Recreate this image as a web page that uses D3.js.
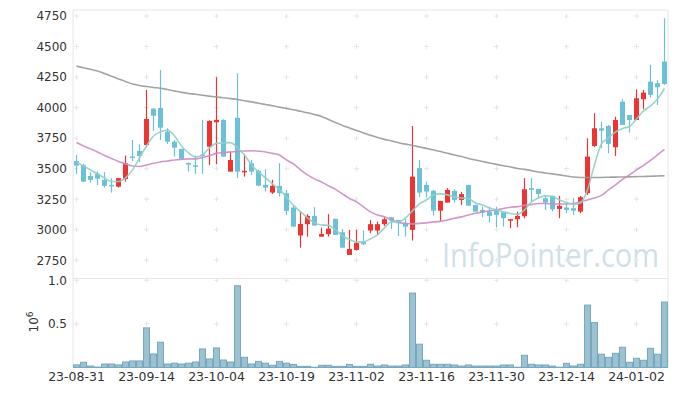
<!DOCTYPE html>
<html>
<head>
<meta charset="utf-8">
<script src="https://cdn.jsdelivr.net/npm/d3@7"></script>
<style>
  body { margin: 0; background: #fff; }
  svg { display: block; }
  .tick text { font-family: "DejaVu Sans", sans-serif; font-size: 12px; fill: #333; }
</style>
</head>
<body>
<div id="chart"></div>
<script>
// chart size
var svgWidth = 677;
var svgHeight = 396;

var left = 73, right = 668;
var priceTop = 10, priceBottom = 278.5, volBottom = 367.5;

// trading days
var dates = ["23-08-31","23-09-01","23-09-04","23-09-05","23-09-06","23-09-07","23-09-08","23-09-11","23-09-12","23-09-13",
  "23-09-14","23-09-15","23-09-18","23-09-19","23-09-20","23-09-21","23-09-22","23-09-25","23-09-26","23-09-27",
  "23-10-04","23-10-05","23-10-06","23-10-10","23-10-11","23-10-12","23-10-13","23-10-16","23-10-17","23-10-18",
  "23-10-19","23-10-20","23-10-23","23-10-24","23-10-25","23-10-26","23-10-27","23-10-30","23-10-31","23-11-01",
  "23-11-02","23-11-03","23-11-06","23-11-07","23-11-08","23-11-09","23-11-10","23-11-13","23-11-14","23-11-15",
  "23-11-16","23-11-17","23-11-20","23-11-21","23-11-22","23-11-23","23-11-24","23-11-27","23-11-28","23-11-29",
  "23-11-30","23-12-01","23-12-04","23-12-05","23-12-06","23-12-07","23-12-08","23-12-11","23-12-12","23-12-13",
  "23-12-14","23-12-15","23-12-18","23-12-19","23-12-20","23-12-21","23-12-22","23-12-26","23-12-27","23-12-28",
  "24-01-02","24-01-03","24-01-04","24-01-05","24-01-08"];

var tickLabels = ["23-08-31","23-09-14","23-10-04","23-10-19","23-11-02","23-11-16","23-11-30","23-12-14","24-01-02"];
var priceTicks = [2750, 3000, 3250, 3500, 3750, 4000, 4250, 4500, 4750];
var volTicks = [0.5, 1.0];

var open = [3563,3528,3440,3459,3408,3367,3353,3416,3600,3645,
  3694,3992,3997,3803,3721,3662,3547,3528,3615,3680,
  3880,3899,3476,3916,3473,3544,3482,3367,3304,3359,
  3299,3181,2952,3045,3113,2943,2963,3089,2979,2793,
  2834,2900,2993,2993,3045,3102,3080,3053,2998,3504,
  3367,3318,3156,3222,3318,3244,3367,3203,3162,3148,
  3156,3143,3078,3086,3110,3340,3334,3258,3277,3170,
  3181,3176,3148,3299,3686,3831,3850,3676,4049,3940,
  3899,4069,4213,4200,4377];
var high = [3612,3540,3471,3476,3471,3422,3425,3607,3735,3700,
  4145,3995,4309,3831,3735,3662,3550,3607,3899,3895,
  4249,3905,3640,4282,3612,3571,3490,3495,3408,3544,
  3326,3203,3148,3127,3184,3017,3127,3089,3006,2998,
  2998,2992,3080,3066,3102,3102,3080,3086,3850,3571,
  3395,3326,3236,3340,3331,3310,3367,3203,3189,3189,
  3189,3143,3086,3148,3422,3422,3334,3277,3277,3277,
  3222,3258,3277,3749,3954,3885,3858,3926,4069,3940,
  4150,4145,4350,4227,4732];
var low = [3457,3390,3386,3364,3345,3304,3345,3394,3563,3553,
  3675,3809,3735,3703,3599,3580,3476,3457,3457,3530,
  3536,3599,3476,3422,3435,3449,3356,3312,3293,3271,
  3121,3025,2853,2943,3034,2943,2943,2957,2848,2793,
  2829,2875,2971,2957,3031,3004,2949,2943,2911,3266,
  3266,3115,3072,3222,3222,3203,3197,3148,3102,3058,
  3020,3025,3012,3020,3094,3230,3260,3162,3150,3094,
  3135,3121,3135,3285,3676,3667,3626,3604,3858,3795,
  3899,3987,4085,4022,4186];
var close = [3525,3394,3408,3418,3359,3356,3422,3544,3595,3604,
  3907,3934,3836,3721,3672,3580,3533,3520,3605,3891,
  3900,3599,3571,3476,3482,3476,3361,3345,3359,3299,
  3154,3025,3047,3113,3034,2965,3009,2957,2853,2842,
  2892,2881,3045,3045,3086,3075,3053,3025,3435,3304,
  3312,3156,3236,3326,3244,3291,3197,3148,3140,3113,
  3121,3094,3086,3113,3331,3326,3293,3222,3167,3195,
  3162,3156,3266,3599,3831,3811,3703,3899,3858,3899,
  4077,4123,4104,4167,4194];

// volume in millions
var volume = [0.03,0.06,0.017,0.005,0.04,0.04,0.03,0.063,0.075,0.075,
  0.454,0.155,0.29,0.04,0.05,0.04,0.05,0.063,0.213,0.098,
  0.224,0.086,0.063,0.937,0.117,0.04,0.07,0.05,0.025,0.07,
  0.05,0.035,0.013,0.013,0.003,0.025,0.025,0.013,0.013,0.035,
  0.013,0.013,0.037,0.017,0.029,0.017,0.017,0.029,0.853,0.267,
  0.083,0.037,0.037,0.037,0.029,0.017,0.029,0.017,0.017,0.017,
  0.017,0.029,0.029,0.003,0.14,0.037,0.029,0.029,0.017,0.003,
  0.048,0.017,0.037,0.715,0.515,0.152,0.117,0.163,0.232,0.06,
  0.106,0.083,0.22,0.152,0.75];

// moving averages
var maShort = [3553,3522,3490,3457,3424,3395,3395,3424,3490,3588,
  3686,3768,3801,3817,3768,3686,3629,3596,3612,3670,
  3707,3711,3713,3670,3612,3530,3473,3424,3375,3330,
  3268,3199,3148,3096,3056,3039,3035,2998,2949,2920,
  2900,2900,2925,2957,3015,3064,3064,3096,3154,3211,
  3244,3285,3293,3285,3268,3260,3256,3219,3203,3178,
  3162,3146,3133,3125,3162,3228,3260,3277,3273,3244,
  3224,3207,3219,3326,3531,3703,3752,3801,3830,3846,
  3907,3973,4014,4071,4157];
var maMid = [3714,3686,3662,3637,3608,3584,3559,3539,3522,3518,
  3530,3544,3555,3563,3571,3576,3580,3580,3592,3608,
  3625,3633,3637,3641,3645,3647,3643,3637,3625,3612,
  3571,3539,3490,3449,3416,3391,3359,3330,3293,3256,
  3228,3187,3146,3121,3105,3080,3060,3052,3047,3052,
  3056,3064,3068,3080,3094,3105,3121,3135,3146,3154,
  3162,3174,3184,3189,3199,3207,3215,3215,3211,3211,
  3211,3215,3228,3244,3260,3281,3326,3367,3412,3449,
  3490,3527,3567,3612,3658];
var maLong = [4340,4327,4314,4300,4280,4257,4235,4215,4194,4182,
  4173,4165,4159,4148,4137,4125,4116,4110,4101,4094,
  4087,4081,4074,4067,4056,4047,4036,4026,4016,4004,
  3993,3983,3970,3958,3944,3928,3903,3879,3854,3834,
  3813,3793,3773,3756,3740,3727,3713,3701,3690,3678,
  3666,3653,3640,3626,3612,3599,3584,3571,3559,3547,
  3535,3524,3514,3502,3494,3484,3473,3465,3457,3449,
  3440,3432,3428,3427,3427,3428,3430,3431,3432,3433,
  3435,3436,3438,3440,3442];

var svg = d3.select("#chart")
  .append("svg")
  .attr("width", svgWidth)
  .attr("height", svgHeight);

var x = d3.scaleBand().domain(dates).range([left, right]).padding(0);
var cx = function (date) { return x(date) + x.bandwidth() / 2; };

var y = d3.scaleLinear().domain([2600, 4800]).range([priceBottom, priceTop]);
var yVol = d3.scaleLinear().domain([0, 1.02]).range([volBottom, priceBottom]);

var candles = dates.map(function (d, i) {
  return { date: d, o: open[i], h: high[i], l: low[i], c: close[i], v: volume[i] };
});

// watermark
svg.append("text")
  .attr("x", 442)
  .attr("y", 267)
  .attr("textLength", 217)
  .attr("lengthAdjust", "spacingAndGlyphs")
  .style("font-family", "'Open Sans', sans-serif")
  .style("font-size", "33px")
  .style("fill", "#cfe0e8")
  .text("InfoPointer.com");

// grid crosses at tick intersections
var crossColor = "#e6e6e6";
var crossPts = [];
tickLabels.forEach(function (t) {
  priceTicks.forEach(function (p) { crossPts.push([cx(t), y(p)]); });
  volTicks.forEach(function (v) { crossPts.push([cx(t), yVol(v)]); });
});
var crosses = svg.append("g").selectAll("g")
  .data(crossPts)
  .enter()
  .append("g")
  .attr("transform", function (d) { return "translate(" + d[0] + "," + d[1] + ")"; });
crosses.append("line").attr("x1", -2.5).attr("x2", 2.5).attr("stroke", crossColor);
crosses.append("line").attr("y1", -2.5).attr("y2", 2.5).attr("stroke", crossColor);

// frame
var frame = svg.append("g").attr("stroke", "#e6e6e6").attr("fill", "none");
frame.append("line").attr("x1", left).attr("x2", right).attr("y1", priceTop).attr("y2", priceTop);
frame.append("line").attr("x1", left).attr("x2", right).attr("y1", priceBottom).attr("y2", priceBottom);
frame.append("line").attr("x1", left).attr("x2", right).attr("y1", volBottom).attr("y2", volBottom);
frame.append("line").attr("x1", left).attr("x2", left).attr("y1", priceTop).attr("y2", volBottom);
frame.append("line").attr("x1", right).attr("x2", right).attr("y1", priceTop).attr("y2", volBottom);

// volume bars
svg.append("g").selectAll("rect")
  .data(candles)
  .enter()
  .append("rect")
  .attr("x", function (d) { return x(d.date) + 0.5; })
  .attr("width", x.bandwidth() - 1)
  .attr("y", function (d) { return yVol(d.v); })
  .attr("height", function (d) { return volBottom - yVol(d.v); })
  .attr("fill", "#9cc1d1")
  .attr("stroke", "#78a8be")
  .attr("stroke-width", 1);

// candles
var up = "#ee3333", down = "#6cc0d8";
var candleG = svg.append("g").selectAll("g")
  .data(candles)
  .enter()
  .append("g");

candleG.append("line")
  .attr("x1", function (d) { return cx(d.date); })
  .attr("x2", function (d) { return cx(d.date); })
  .attr("y1", function (d) { return y(d.h); })
  .attr("y2", function (d) { return y(d.l); })
  .attr("stroke", function (d) { return d.c >= d.o ? up : down; })
  .attr("stroke-width", 1.2);

candleG.append("rect")
  .attr("x", function (d) { return cx(d.date) - 2.5; })
  .attr("width", 5)
  .attr("y", function (d) { return y(Math.max(d.o, d.c)); })
  .attr("height", function (d) { return Math.max(1.5, Math.abs(y(d.o) - y(d.c))); })
  .attr("fill", function (d) { return d.c >= d.o ? up : down; });

// moving average lines
function drawLine(values, color) {
  var line = d3.line()
    .x(function (d, i) { return cx(dates[i]); })
    .y(function (d) { return y(d); })
    .curve(d3.curveMonotoneX);
  svg.append("path")
    .datum(values)
    .attr("d", line)
    .attr("fill", "none")
    .attr("stroke", color)
    .attr("stroke-width", 1.6)
    .attr("stroke-opacity", 0.9);
}
drawLine(maLong, "#999999");
drawLine(maMid, "#cc8cc4");
drawLine(maShort, "#8fd0c4");

// axes
var priceAxis = svg.append("g")
  .attr("transform", "translate(" + left + ",0)")
  .call(d3.axisLeft(y).tickValues(priceTicks).tickFormat(d3.format("d")).tickSize(0).tickPadding(6));
priceAxis.select(".domain").remove();

var volAxis = svg.append("g")
  .attr("transform", "translate(" + left + ",0)")
  .call(d3.axisLeft(yVol).tickValues(volTicks).tickFormat(d3.format(".1f")).tickSize(0).tickPadding(6));
volAxis.select(".domain").remove();

var xAxis = svg.append("g")
  .attr("transform", "translate(0," + volBottom + ")")
  .call(d3.axisBottom(x).tickValues(tickLabels).tickSize(0).tickPadding(5));
xAxis.select(".domain").remove();
xAxis.selectAll("text").style("font-size", "12.5px");

// volume unit label
var unit = svg.append("text")
  .attr("transform", "translate(38,322) rotate(-90)")
  .attr("text-anchor", "middle")
  .style("font-family", "'DejaVu Sans', sans-serif")
  .style("font-size", "12px")
  .style("fill", "#333");
unit.append("tspan").text("10");
unit.append("tspan").attr("dy", -5).style("font-size", "9px").text("6");
</script>
</body>
</html>
